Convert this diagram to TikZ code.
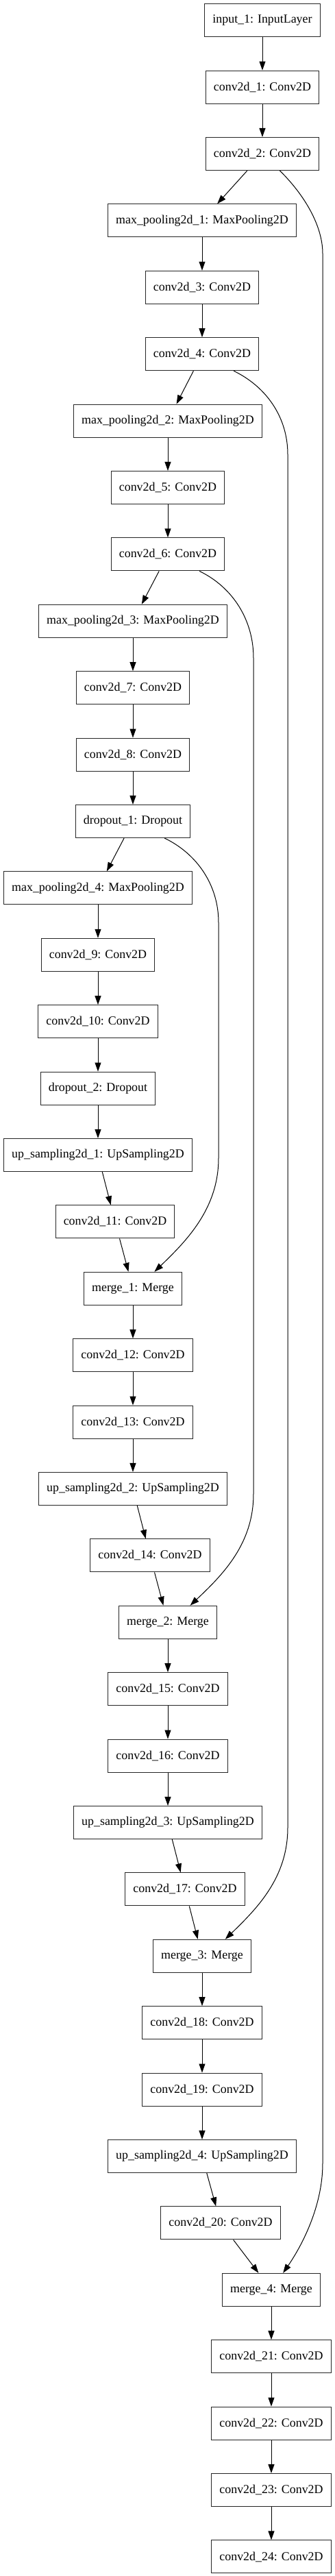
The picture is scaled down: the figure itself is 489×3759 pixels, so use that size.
\documentclass[tikz,border=0pt]{standalone}
\usepackage{fontspec}
\setmainfont{Liberation Serif}
\usetikzlibrary{arrows.meta}
\tikzset{layer/.style={draw=black!85,line width=1.1pt,minimum height=48pt,inner xsep=11.5pt,inner ysep=0pt,font=\fontsize{17.9}{20}\selectfont}}
\begin{document}
\begin{tikzpicture}[x=1pt,y=-1pt,>={Triangle[length=13pt,width=9pt]},line width=1pt]
    \useasboundingbox (0,0) rectangle (489,3759);
    \foreach \n/\x/\r/\t in {in/383/0/input\_1: InputLayer,
        c1/383/1/conv2d\_1: Conv2D, c2/383/2/conv2d\_2: Conv2D,
        mp1/295/3/max\_pooling2d\_1: MaxPooling2D,
        c3/295/4/conv2d\_3: Conv2D, c4/295/5/conv2d\_4: Conv2D,
        mp2/245/6/max\_pooling2d\_2: MaxPooling2D,
        c5/245/7/conv2d\_5: Conv2D, c6/245/8/conv2d\_6: Conv2D,
        mp3/194/9/max\_pooling2d\_3: MaxPooling2D,
        c7/194/10/conv2d\_7: Conv2D, c8/194/11/conv2d\_8: Conv2D,
        dp1/194/12/dropout\_1: Dropout,
        mp4/143/13/max\_pooling2d\_4: MaxPooling2D,
        c9/143/14/conv2d\_9: Conv2D, c10/143/15/conv2d\_10: Conv2D,
        dp2/143/16/dropout\_2: Dropout,
        up1/143/17/up\_sampling2d\_1: UpSampling2D,
        c11/168/18/conv2d\_11: Conv2D,
        mg1/194/19/merge\_1: Merge,
        c12/194/20/conv2d\_12: Conv2D, c13/194/21/conv2d\_13: Conv2D,
        up2/194/22/up\_sampling2d\_2: UpSampling2D,
        c14/219/23/conv2d\_14: Conv2D,
        mg2/245/24/merge\_2: Merge,
        c15/245/25/conv2d\_15: Conv2D, c16/245/26/conv2d\_16: Conv2D,
        up3/245/27/up\_sampling2d\_3: UpSampling2D,
        c17/270/28/conv2d\_17: Conv2D,
        mg3/295/29/merge\_3: Merge,
        c18/295/30/conv2d\_18: Conv2D, c19/295/31/conv2d\_19: Conv2D,
        up4/295/32/up\_sampling2d\_4: UpSampling2D,
        c20/322/33/conv2d\_20: Conv2D,
        mg4/396/34/merge\_4: Merge,
        c21/396/35/conv2d\_21: Conv2D, c22/396/36/conv2d\_22: Conv2D,
        c23/396/37/conv2d\_23: Conv2D, c24/396/38/conv2d\_24: Conv2D}
    {
        \node[layer] (\n) at (\x,{29.7+97.4*\r}) {\t};
    }
    \foreach \a/\b in {in/c1,c1/c2,c2/mp1,mp1/c3,c3/c4,c4/mp2,mp2/c5,c5/c6,c6/mp3,
        mp3/c7,c7/c8,c8/dp1,dp1/mp4,mp4/c9,c9/c10,c10/dp2,dp2/up1,up1/c11,c11/mg1,
        mg1/c12,c12/c13,c13/up2,up2/c14,c14/mg2,mg2/c15,c15/c16,c16/up3,up3/c17,
        c17/mg3,mg3/c18,c18/c19,c19/up4,up4/c20,c20/mg4,mg4/c21,c21/c22,c22/c23,c23/c24}
    {
        \draw[->] (\a)--(\b);
    }
    \draw[->] (c2.-44) .. controls (445,285) and (471,330) .. (471,370)
        -- (471,3157) .. controls (471,3220) and (440,3278) .. (mg4.55);
    \draw[->] (c4.-28) .. controls (390,565) and (420,610) .. (420,663)
        -- (420,2667) .. controls (420,2740) and (375,2785) .. (mg3.36);
    \draw[->] (c6.-28) .. controls (340,857) and (370,905) .. (370,960)
        -- (370,2180) .. controls (370,2253) and (325,2298) .. (mg2.37);
    \draw[->] (dp1.-28.6) .. controls (288,1246) and (319,1292) .. (319,1346)
        -- (319,1690) .. controls (319,1763) and (273,1810) .. (mg1.38);
\end{tikzpicture}
\end{document}
